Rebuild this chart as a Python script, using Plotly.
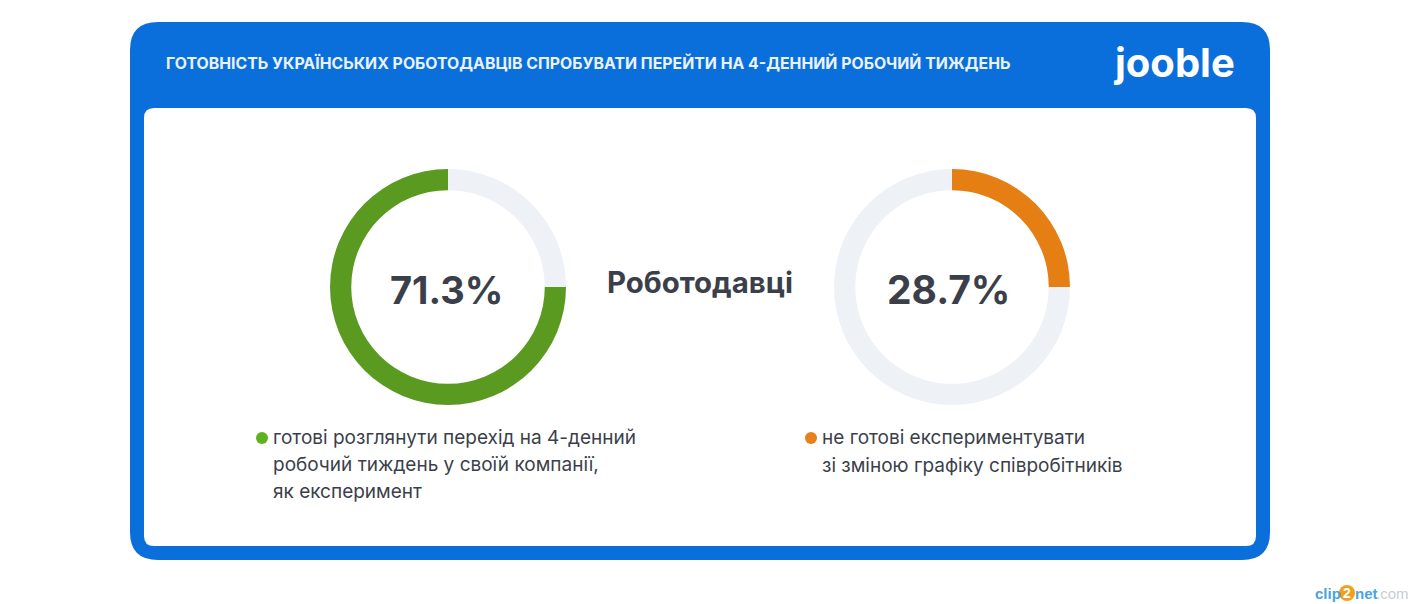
import plotly.graph_objects as go

W = 1423
H = 604

title = "ГОТОВНІСТЬ УКРАЇНСЬКИХ РОБОТОДАВЦІВ СПРОБУВАТИ ПЕРЕЙТИ НА 4-ДЕННИЙ РОБОЧИЙ ТИЖДЕНЬ"
center_label = "Роботодавці"
value_labels = ["71.3%", "28.7%"]
# the rings in the picture are drawn as 3/4 and 1/4, not to the printed percentages
left_ring = [25, 75]
right_ring = [25, 75]
left_lines = ["готові розглянути перехід на 4-денний", "робочий тиждень у своїй компанії,", "як експеримент"]
right_lines = ["не готові експериментувати", "зі зміною графіку співробітників"]

BLUE = "#0B6FDB"
GREEN = "#5A9A20"
ORANGE = "#E57F14"
GREY = "#EEF1F6"
INK = "#3B3F4A"
FONT = "Inter, Liberation Sans, sans-serif"


def rrect(x0, y0, x1, y1, r):
    return (f"M{x0+r},{y0} L{x1-r},{y0} Q{x1},{y0} {x1},{y0+r} L{x1},{y1-r} Q{x1},{y1} {x1-r},{y1} "
            f"L{x0+r},{y1} Q{x0},{y1} {x0},{y1-r} L{x0},{y0+r} Q{x0},{y0} {x0+r},{y0} Z")


def ring(values, colors, cx):
    r = 118
    cy = 287
    return go.Pie(values=values, sort=False, direction="clockwise", rotation=0, hole=0.82,
                  marker=dict(colors=colors, line=dict(width=0)),
                  textinfo="none", hoverinfo="skip", showlegend=False,
                  domain=dict(x=[(cx - r) / W, (cx + r) / W], y=[1 - (cy + r) / H, 1 - (cy - r) / H]))


fig = go.Figure()
# empty trace so the pixel axes exist for the shapes and texts
fig.add_trace(go.Scatter(x=[], y=[], showlegend=False, hoverinfo="skip"))
fig.add_trace(ring(left_ring, [GREY, GREEN], 448))
fig.add_trace(ring(right_ring, [ORANGE, GREY], 952))


def label(x, y, text, size, color=INK, weight=400, anchor="left", font=FONT):
    fig.add_annotation(x=x, y=y, xref="x", yref="y", text=text, showarrow=False,
                       xanchor=anchor, yanchor="middle",
                       font=dict(family=font, size=size, color=color, weight=weight))


label(164, 63, title, 15.85, "#EAF3FC", 700)
label(1174.5, 62, "jooble", 40, "white", 700, "center")
label(446, 289.5, value_labels[0], 38, INK, 700, "center")
label(948.5, 289.5, value_labels[1], 39, INK, 700, "center")
label(700, 282, center_label, 29.4, INK, 700, "center")
for i, line in enumerate(left_lines):
    label(271, 437 + i * 27.3, line, 19)
for i, line in enumerate(right_lines):
    label(820, 437.5 + i * 27.5, line, 19)

# watermark
label(1313, 593, "clip", 15, "#4AA3E0", 700, font="Liberation Sans")
label(1347, 593, "2", 14, "white", 700, "center", font="Liberation Sans")
label(1353, 593, "net", 15, "#4AA3E0", 700, font="Liberation Sans")
label(1374, 593, ".com", 15, "#C9CDD3", 400, font="Liberation Sans")

shapes = [
    dict(type="path", xref="x", yref="y", path=rrect(130, 22, 1270, 560, 28),
         fillcolor=BLUE, line_width=0, layer="below"),
    dict(type="path", xref="x", yref="y", path=rrect(144, 108, 1256, 546, 10),
         fillcolor="white", line_width=0, layer="below"),
    dict(type="circle", xref="x", yref="y", x0=256, x1=268, y0=432, y1=444, fillcolor="#5DB31C", line_width=0),
    dict(type="circle", xref="x", yref="y", x0=805, x1=817, y0=432, y1=444, fillcolor="#E5801A", line_width=0),
    dict(type="circle", xref="x", yref="y", x0=1339, x1=1355, y0=585, y1=601, fillcolor="#F0A020",
         line_width=0, layer="below"),
]

fig.update_layout(
    width=W, height=H, margin=dict(l=0, r=0, t=0, b=0),
    paper_bgcolor="white", plot_bgcolor="rgba(0,0,0,0)", shapes=shapes,
    xaxis=dict(range=[0, W], visible=False, fixedrange=True),
    yaxis=dict(range=[H, 0], visible=False, fixedrange=True),
)
fig.write_html("out.html", config=dict(displayModeBar=False),
               post_script="document.body.style.margin='0';")
